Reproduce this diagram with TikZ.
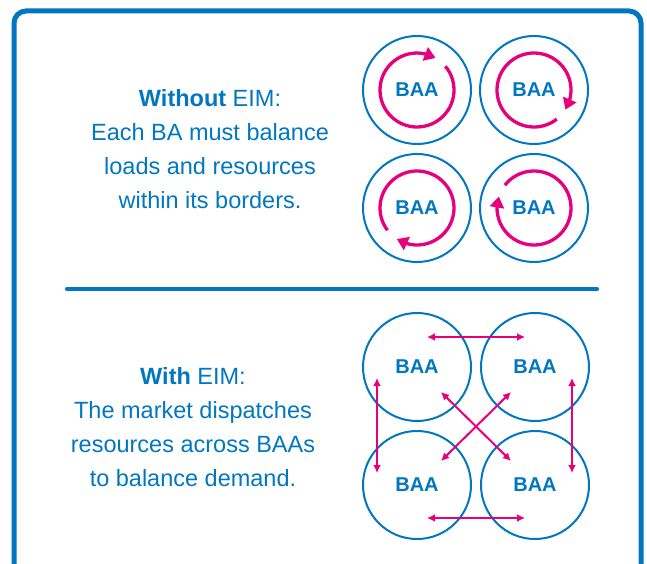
\documentclass[tikz,border=0pt]{standalone}
\usepackage{fontspec}
\setmainfont{Liberation Sans}
\usetikzlibrary{arrows.meta,bending}
\definecolor{eimblue}{RGB}{0,119,192}
\definecolor{eimpink}{RGB}{230,0,126}

\begin{document}
\begin{tikzpicture}[x=1pt,y=1pt,
  baa/.style={circle,draw=eimblue,line width=2pt,minimum size=108pt,inner sep=0pt,
    text=eimblue,font=\fontsize{20}{24}\selectfont\bfseries},
  turn/.style={draw=eimpink,line width=3.3pt,-{Triangle[length=11pt,width=14pt]}},
  flowarrow/.style={draw=eimpink,line width=2pt,{Latex[length=8pt,width=8pt]}-{Latex[length=8pt,width=8pt]}},
  eimtext/.style={text=eimblue,align=center,font=\fontsize{23.5}{34}\selectfont}]
\useasboundingbox (0,0) rectangle (647,563);
\clip (0,0) rectangle (647,563);
% frame and divider
\draw[eimblue,line width=5pt,rounded corners=12pt] (14,552) rectangle (641,-30);
\draw[eimblue,line width=4pt,line cap=round] (67,274) -- (597,274);

% without EIM
\node[eimtext] (t1) at (210,414) {\textbf{Without} EIM:\\Each BA must balance\\loads and resources\\within its borders.};
\node[baa] (a1) at (417,473) {BAA};
\node[baa] (a2) at (534,473) {BAA};
\node[baa] (a3) at (417,355) {BAA};
\node[baa] (a4) at (534,355) {BAA};
\draw[turn] ([shift={(40:37)}]a1.center) arc[start angle=40,end angle=-300,radius=37];
\draw[turn] ([shift={(-52:37)}]a2.center) arc[start angle=-52,end angle=-392,radius=37];
\draw[turn] ([shift={(-143:37)}]a3.center) arc[start angle=-143,end angle=-483,radius=37];
\draw[turn] ([shift={(142:37)}]a4.center) arc[start angle=142,end angle=-198,radius=37];

% with EIM
\node[eimtext] (t2) at (193,136) {\textbf{With} EIM:\\The market dispatches\\resources across BAAs\\to balance demand.};
\node[baa] (b1) at (417,196) {BAA};
\node[baa] (b2) at (535,196) {BAA};
\node[baa] (b3) at (417,78) {BAA};
\node[baa] (b4) at (535,78) {BAA};
\draw[flowarrow] ([shift={(10,30)}]b1.center) -- ([shift={(-10,30)}]b2.center);
\draw[flowarrow] ([shift={(10,-33)}]b3.center) -- ([shift={(-10,-33)}]b4.center);
\draw[flowarrow] ([shift={(-40,-11)}]b1.center) -- ([shift={(-40,12)}]b3.center);
\draw[flowarrow] ([shift={(37,-11)}]b2.center) -- ([shift={(37,12)}]b4.center);
\draw[flowarrow] ([shift={(24,-25)}]b1.center) -- ([shift={(-24,24)}]b4.center);
\draw[flowarrow] ([shift={(-24,-25)}]b2.center) -- ([shift={(24,24)}]b3.center);
\end{tikzpicture}
\end{document}
